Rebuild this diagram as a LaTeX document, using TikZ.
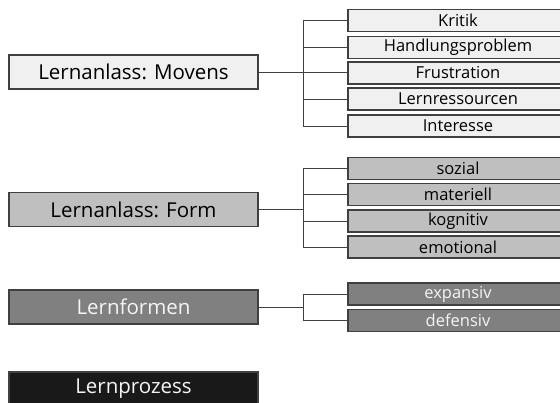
\documentclass[tikz,border=0pt]{standalone}
\usepackage{fontspec}
\setmainfont{Open Sans}
\begin{document}
\begin{tikzpicture}[x=1pt,y=-1pt,
  bigbox/.style={draw=black!75,line width=1.1pt,minimum width=249pt,minimum height=34pt,inner sep=0pt,font=\fontsize{20.5}{22}\selectfont},
  smallbox/.style={draw=black!75,line width=1.1pt,minimum width=220pt,minimum height=22pt,inner sep=0pt,font=\fontsize{16.5}{18}\selectfont},
  lightfill/.style={fill=black!6,text=black},
  midfill/.style={fill=black!25,text=black},
  darkfill/.style={fill=black!50,text=black!4},
  blackfill/.style={fill=black!90,text=black!4},
  conn/.style={draw=black!75,line width=0.9pt}]
\useasboundingbox (0,0) rectangle (560,402);
\clip (0,0) rectangle (560,402);
\fill[white] (0,0) rectangle (560,402);
% Movens
\node[bigbox,lightfill] (mov) at (133.5,72) {Lernanlass: Movens};
\node[smallbox,lightfill] (k1) at (458,20.5) {Kritik};
\node[smallbox,lightfill] (k2) at (458,47.5) {Handlungsproblem};
\node[smallbox,lightfill] (k3) at (458,73) {Frustration};
\node[smallbox,lightfill] (k4) at (458,99) {Lernressourcen};
\node[smallbox,lightfill] (k5) at (458,126) {Interesse};
\coordinate (sm) at (303.5,72);
\draw[conn] (mov.east) -- (k3.west |- mov.east);
\draw[conn] (k1.west) -| (sm) |- (k5.west);
\draw[conn] (k2.west) -- (sm |- k2.west);
\draw[conn] (k4.west) -- (sm |- k4.west);
% Form
\node[bigbox,midfill] (form) at (133.5,209.5) {Lernanlass: Form};
\node[smallbox,midfill] (f1) at (458,168.5) {sozial};
\node[smallbox,midfill] (f2) at (458,194.5) {materiell};
\node[smallbox,midfill] (f3) at (458,221) {kognitiv};
\node[smallbox,midfill] (f4) at (458,247) {emotional};
\coordinate (sf) at (303.5,209.5);
\draw[conn] (form.east) -- (sf);
\draw[conn] (f1.west) -| (sf) |- (f4.west);
\draw[conn] (f2.west) -- (sf |- f2.west);
\draw[conn] (f3.west) -- (sf |- f3.west);
% Lernformen
\node[bigbox,darkfill] (lf) at (133.5,307) {Lernformen};
\node[smallbox,darkfill] (e1) at (458,294) {expansiv};
\node[smallbox,darkfill] (e2) at (458,320.5) {defensiv};
\coordinate (sl) at (303.5,307);
\draw[conn] (lf.east) -- (sl);
\draw[conn] (e1.west) -| (sl) |- (e2.west);
% Lernprozess
\node[bigbox,blackfill] (lp) at (133.5,389) {Lernprozess};
\end{tikzpicture}
\end{document}
